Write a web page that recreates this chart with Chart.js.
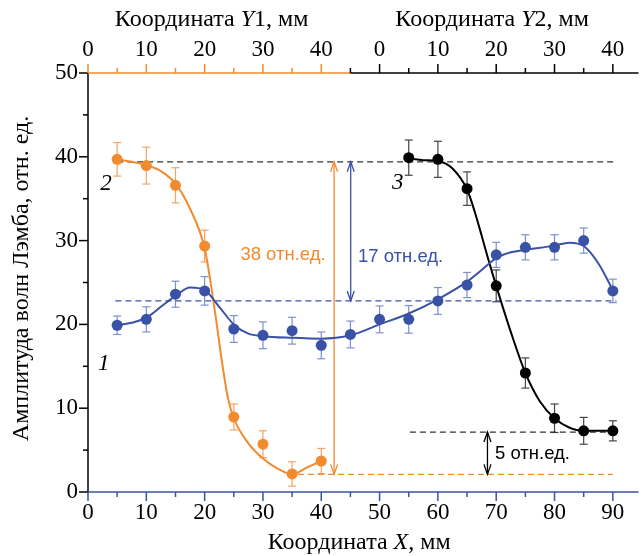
<!DOCTYPE html>
<html>
<head>
<meta charset="utf-8">
<title>Амплитуда волн Лэмба</title>
<script src="https://cdn.jsdelivr.net/npm/chart.js@4.4.1/dist/chart.umd.min.js"></script>
<style>
  html, body { margin: 0; padding: 0; background: #fff; }
</style>
</head>
<body>
<canvas id="chart" width="644" height="556"></canvas>
<script>
  "use strict";

  /* ------------------------------------------------------------------
   * Data
   * ------------------------------------------------------------------ */
  // curve 1 (blue) vs X
  const xPositions = [5, 10, 15, 20, 25, 30, 35, 40, 45, 50, 55, 60, 65, 70, 75, 80, 85, 90];
  const blueValues = [19.9, 20.6, 23.6, 24.0, 19.45, 18.7, 19.25, 17.5, 18.8, 20.6, 20.6, 22.8, 24.7, 28.3, 29.2, 29.2, 30.0, 24.0];
  const blueErrors = [1.1, 1.5, 1.55, 1.7, 1.6, 1.6, 1.6, 1.6, 1.6, 1.6, 1.65, 1.6, 1.5, 1.5, 1.5, 1.5, 1.5, 1.4];

  // curves 2 (orange, vs Y1) and 3 (black, vs Y2)
  const yPositions   = [5, 10, 15, 20, 25, 30, 35, 40];
  const orangeValues = [39.7, 38.95, 36.6, 29.35, 8.95, 5.7, 2.15, 3.7];
  const orangeErrors = [2.0, 2.2, 2.1, 1.9, 1.55, 1.6, 1.45, 1.5];
  const blackValues  = [39.9, 39.7, 36.2, 24.6, 14.2, 8.8, 7.3, 7.3];
  const blackErrors  = [2.1, 2.15, 2.0, 1.9, 1.8, 1.7, 1.6, 1.2];

  // fitted curves
  const blueFitX   = [5, 7.5, 10, 12.5, 15, 17.5, 20, 22.5, 25, 27.5, 30, 35, 40, 45, 50, 55, 60, 65, 67.5, 70, 72.5, 75, 80, 82.5, 85, 87.5, 90];
  const blueFitY   = [19.9, 20.2, 20.8, 22.1, 23.4, 24.4, 24.1, 22.1, 20.0, 18.9, 18.6, 18.4, 18.3, 18.7, 20.0, 21.3, 23.0, 25.1, 26.5, 27.9, 28.6, 28.9, 29.4, 29.75, 29.35, 27.3, 24.1];
  const orangeFitX = [5, 10, 12.5, 15, 17.5, 20, 21, 22, 23, 24, 25, 27.5, 30, 32.5, 35, 37.5, 40];
  const orangeFitY = [39.7, 39.0, 38.3, 36.8, 33.8, 29.1, 25.1, 20.4, 15.4, 11.2, 8.8, 5.8, 4.0, 2.8, 2.1, 2.9, 3.7];
  const blackFitX  = [5, 7.5, 10, 12.5, 15, 16.25, 17.5, 18.75, 20, 22.5, 25, 27.5, 30, 32.5, 35, 40];
  const blackFitY  = [39.8, 39.6, 39.5, 38.6, 36.1, 33.6, 30.6, 27.5, 24.6, 19.1, 14.2, 10.8, 8.8, 7.7, 7.3, 7.3];

  // ticks
  const xTickValues   = [0, 10, 20, 30, 40, 50, 60, 70, 80, 90];
  const yTickValues   = [0, 10, 20, 30, 40, 50];
  const topTickValues = [0, 10, 20, 30, 40, 50, 60, 70, 80, 90];
  const topTickLabels = ["0", "10", "20", "30", "40", "0", "10", "20", "30", "40"];

  // reference levels and arrows (in X / amplitude units)
  const levelTop    = 39.4;
  const levelBlue   = 22.8;
  const levelOrange = 2.1;
  const levelBlack  = 7.15;
  const arrowOrangeX = 42.2;
  const arrowBlueX   = 45.05;
  const arrowBlackX  = 68.5;

  /* ------------------------------------------------------------------
   * Style
   * ------------------------------------------------------------------ */
  const X_MAX  = 94.4;
  const Y2_OFF = 50;      // Y2 = X - 50
  const Y1_END = 45;      // orange part of the top axis
  const SERIF  = '"Liberation Serif", "Times New Roman", serif';
  const SANS   = '"Liberation Sans", Arial, sans-serif';
  const ORANGE = "#f28a2e";
  const BLUE   = "#3a52a6";
  const BLACK  = "#000000";
  const ORANGE_ERR = "#f4a463";
  const BLUE_ERR   = "#7d8ed0";
  const BLACK_ERR  = "#444444";
  const TICK_FONT  = 23;
  const TITLE_FONT = 24;

  function pts(xs, ys) {
    return xs.map(function (x, i) { return { x: x, y: ys[i] }; });
  }

  function seg(ctx, x1, y1, x2, y2, color) {
    ctx.strokeStyle = color;
    ctx.beginPath();
    ctx.moveTo(x1, y1);
    ctx.lineTo(x2, y2);
    ctx.stroke();
  }

  function drawMixed(ctx, parts, cx, cy, size) {
    let total = 0;
    parts.forEach(function (p) {
      ctx.font = (p[1] ? "italic " : "") + size + "px " + SERIF;
      total += ctx.measureText(p[0]).width;
    });
    let x = cx - total / 2;
    ctx.textAlign = "left";
    ctx.textBaseline = "middle";
    parts.forEach(function (p) {
      ctx.font = (p[1] ? "italic " : "") + size + "px " + SERIF;
      ctx.fillText(p[0], x, cy);
      x += ctx.measureText(p[0]).width;
    });
  }

  /* ------------------------------------------------------------------
   * Plugins
   * ------------------------------------------------------------------ */
  const errorBars = {
    id: "errorBars",
    beforeDatasetsDraw: function (chart) {
      const ctx = chart.ctx;
      const sy = chart.scales.y;
      const sets = [
        { xs: xPositions, vals: blueValues,   errs: blueErrors,   scale: chart.scales.x,   color: BLUE_ERR },
        { xs: yPositions, vals: orangeValues, errs: orangeErrors, scale: chart.scales.xY1, color: ORANGE_ERR },
        { xs: yPositions, vals: blackValues,  errs: blackErrors,  scale: chart.scales.xY2, color: BLACK_ERR },
      ];
      ctx.save();
      ctx.lineWidth = 1.2;
      sets.forEach(function (s) {
        s.xs.forEach(function (xv, i) {
          const px = s.scale.getPixelForValue(xv);
          const top = sy.getPixelForValue(s.vals[i] + s.errs[i]);
          const bot = sy.getPixelForValue(s.vals[i] - s.errs[i]);
          seg(ctx, px, top, px, bot, s.color);
          seg(ctx, px - 4, top, px + 4, top, s.color);
          seg(ctx, px - 4, bot, px + 4, bot, s.color);
        });
      });
      ctx.restore();
    },
  };

  const annotations = {
    id: "annotations",
    beforeDatasetsDraw: function (chart) {
      const ctx = chart.ctx;
      const sx = chart.scales.x;
      const sy = chart.scales.y;
      const X = function (v) { return sx.getPixelForValue(v); };
      const Y = function (v) { return sy.getPixelForValue(v); };

      function dashed(x1, x2, v, color) {
        ctx.save();
        ctx.setLineDash([6, 4]);
        ctx.lineWidth = 1.3;
        seg(ctx, X(x1), Y(v), X(x2), Y(v), color);
        ctx.restore();
      }

      function arrow(xv, v1, v2, color) {
        const px = X(xv), p1 = Y(v1), p2 = Y(v2);
        ctx.save();
        ctx.lineWidth = 1.3;
        seg(ctx, px, p1, px, p2, color);
        ctx.beginPath();
        ctx.moveTo(px - 3.5, p1 + 10); ctx.lineTo(px, p1); ctx.lineTo(px + 3.5, p1 + 10);
        ctx.moveTo(px - 3.5, p2 - 10); ctx.lineTo(px, p2); ctx.lineTo(px + 3.5, p2 - 10);
        ctx.stroke();
        ctx.restore();
      }

      dashed(5, 90.6, levelTop, "#333333");
      dashed(4.7, 90.6, levelBlue, BLUE);
      dashed(36, 90, levelOrange, ORANGE);
      dashed(55.2, 90, levelBlack, "#333333");

      arrow(arrowOrangeX, levelTop, levelOrange, ORANGE);
      arrow(arrowBlueX, levelTop, levelBlue, BLUE);
      arrow(arrowBlackX, levelBlack, levelOrange, BLACK);

      ctx.save();
      ctx.font = "18.5px " + SANS;
      ctx.textBaseline = "middle";
      ctx.fillStyle = ORANGE;
      ctx.textAlign = "right";
      ctx.fillText("38 отн.ед.", X(40.75), Y(28.3));
      ctx.fillStyle = BLUE;
      ctx.textAlign = "left";
      ctx.fillText("17 отн.ед.", X(46.3), Y(28.0));
      ctx.fillStyle = BLACK;
      ctx.fillText("5 отн.ед.", X(69.8), Y(4.5));

      ctx.font = "italic 23px " + SERIF;
      ctx.textAlign = "center";
      ctx.fillText("1", X(2.7), Y(15.3));
      ctx.fillText("2", X(3.1), Y(36.8));
      ctx.fillText("3", X(53.1), Y(36.9));
      ctx.restore();
    },
  };

  const frame = {
    id: "frame",
    afterDraw: function (chart) {
      const ctx = chart.ctx;
      const a = chart.chartArea;
      const sx = chart.scales.x;
      const sy = chart.scales.y;
      ctx.save();
      ctx.lineWidth = 1.5;

      // left axis
      seg(ctx, a.left, a.top, a.left, a.bottom, BLACK);
      for (let v = 0; v <= 50; v += 5) {
        const py = sy.getPixelForValue(v);
        seg(ctx, a.left - (v % 10 ? 5 : 9), py, a.left, py, BLACK);
      }

      // bottom axis X
      seg(ctx, a.left, a.bottom, a.right, a.bottom, BLUE);
      for (let v = 0; v <= 90; v += 5) {
        const px = sx.getPixelForValue(v);
        seg(ctx, px, a.bottom, px, a.bottom + (v % 10 ? 5 : 9), BLUE);
      }

      // top axes Y1 / Y2
      const split = sx.getPixelForValue(Y1_END);
      seg(ctx, a.left, a.top, split, a.top, ORANGE);
      seg(ctx, split, a.top, a.right, a.top, BLACK);
      for (let v = 0; v <= 90; v += 5) {
        const px = sx.getPixelForValue(v);
        seg(ctx, px, a.top, px, a.top - (v % 10 ? 5 : 9), v < Y1_END ? ORANGE : BLACK);
      }

      // titles
      ctx.fillStyle = BLACK;
      drawMixed(ctx, [["Координата ", false], ["X", true], [", мм", false]], sx.getPixelForValue(46.5), 543, TITLE_FONT);
      drawMixed(ctx, [["Координата ", false], ["Y", true], ["1, мм", false]], sx.getPixelForValue(21.2), 20, TITLE_FONT);
      drawMixed(ctx, [["Координата ", false], ["Y", true], ["2, мм", false]], sx.getPixelForValue(69.3), 20, TITLE_FONT);

      ctx.save();
      ctx.translate(22, (a.top + a.bottom) / 2 - 4);
      ctx.rotate(-Math.PI / 2);
      drawMixed(ctx, [["Амплитуда волн Лэмба, отн. ед.", false]], 0, 0, TITLE_FONT);
      ctx.restore();

      ctx.restore();
    },
  };

  /* ------------------------------------------------------------------
   * Chart
   * ------------------------------------------------------------------ */
  const hiddenGrid = { display: true, drawOnChartArea: false, color: "rgba(0,0,0,0)", tickLength: 9 };

  new Chart(document.getElementById("chart").getContext("2d"), {
    type: "scatter",
    data: {
      datasets: [
        { data: pts(blueFitX, blueFitY), xAxisID: "x", showLine: true, pointRadius: 0,
          borderColor: BLUE, borderWidth: 2, cubicInterpolationMode: "monotone" },
        { data: pts(orangeFitX, orangeFitY), xAxisID: "xY1", showLine: true, pointRadius: 0,
          borderColor: ORANGE, borderWidth: 2, cubicInterpolationMode: "monotone" },
        { data: pts(blackFitX, blackFitY), xAxisID: "xY2", showLine: true, pointRadius: 0,
          borderColor: BLACK, borderWidth: 2, cubicInterpolationMode: "monotone" },
        { data: pts(xPositions, blueValues), xAxisID: "x", pointRadius: 5.5,
          backgroundColor: BLUE, borderWidth: 0 },
        { data: pts(yPositions, orangeValues), xAxisID: "xY1", pointRadius: 5.5,
          backgroundColor: ORANGE, borderWidth: 0 },
        { data: pts(yPositions, blackValues), xAxisID: "xY2", pointRadius: 5.5,
          backgroundColor: BLACK, borderWidth: 0 },
      ],
    },
    options: {
      responsive: false,
      animation: false,
      devicePixelRatio: 1,
      layout: { padding: 0 },
      plugins: {
        legend:  { display: false },
        tooltip: { enabled: false },
      },
      scales: {
        x: {
          type: "linear", position: "bottom", min: 0, max: X_MAX,
          afterFit: function (s) { s.height = 64; },
          afterBuildTicks: function (s) { s.ticks = xTickValues.map(function (v) { return { value: v }; }); },
          ticks: { font: { family: SERIF, size: TICK_FONT }, color: BLACK, padding: -2, maxRotation: 0 },
          grid: hiddenGrid,
          border: { display: false },
        },
        xY1: {
          type: "linear", position: "top", min: 0, max: X_MAX,
          afterFit: function (s) { s.height = 73; },
          afterBuildTicks: function (s) { s.ticks = topTickValues.map(function (v) { return { value: v }; }); },
          ticks: {
            font: { family: SERIF, size: TICK_FONT }, color: BLACK, padding: 0, maxRotation: 0,
            callback: function (v) { return topTickLabels[topTickValues.indexOf(v)]; },
          },
          grid: hiddenGrid,
          border: { display: false },
        },
        xY2: {
          type: "linear", position: "top", min: -Y2_OFF, max: X_MAX - Y2_OFF,
          display: false,
        },
        y: {
          type: "linear", position: "left", min: 0, max: 50,
          afterFit: function (s) { s.width = 88; },
          afterBuildTicks: function (s) { s.ticks = yTickValues.map(function (v) { return { value: v }; }); },
          ticks: { font: { family: SERIF, size: TICK_FONT }, color: BLACK, padding: 1 },
          grid: hiddenGrid,
          border: { display: false },
        },
      },
    },
    plugins: [errorBars, annotations, frame],
  });
</script>
</body>
</html>
